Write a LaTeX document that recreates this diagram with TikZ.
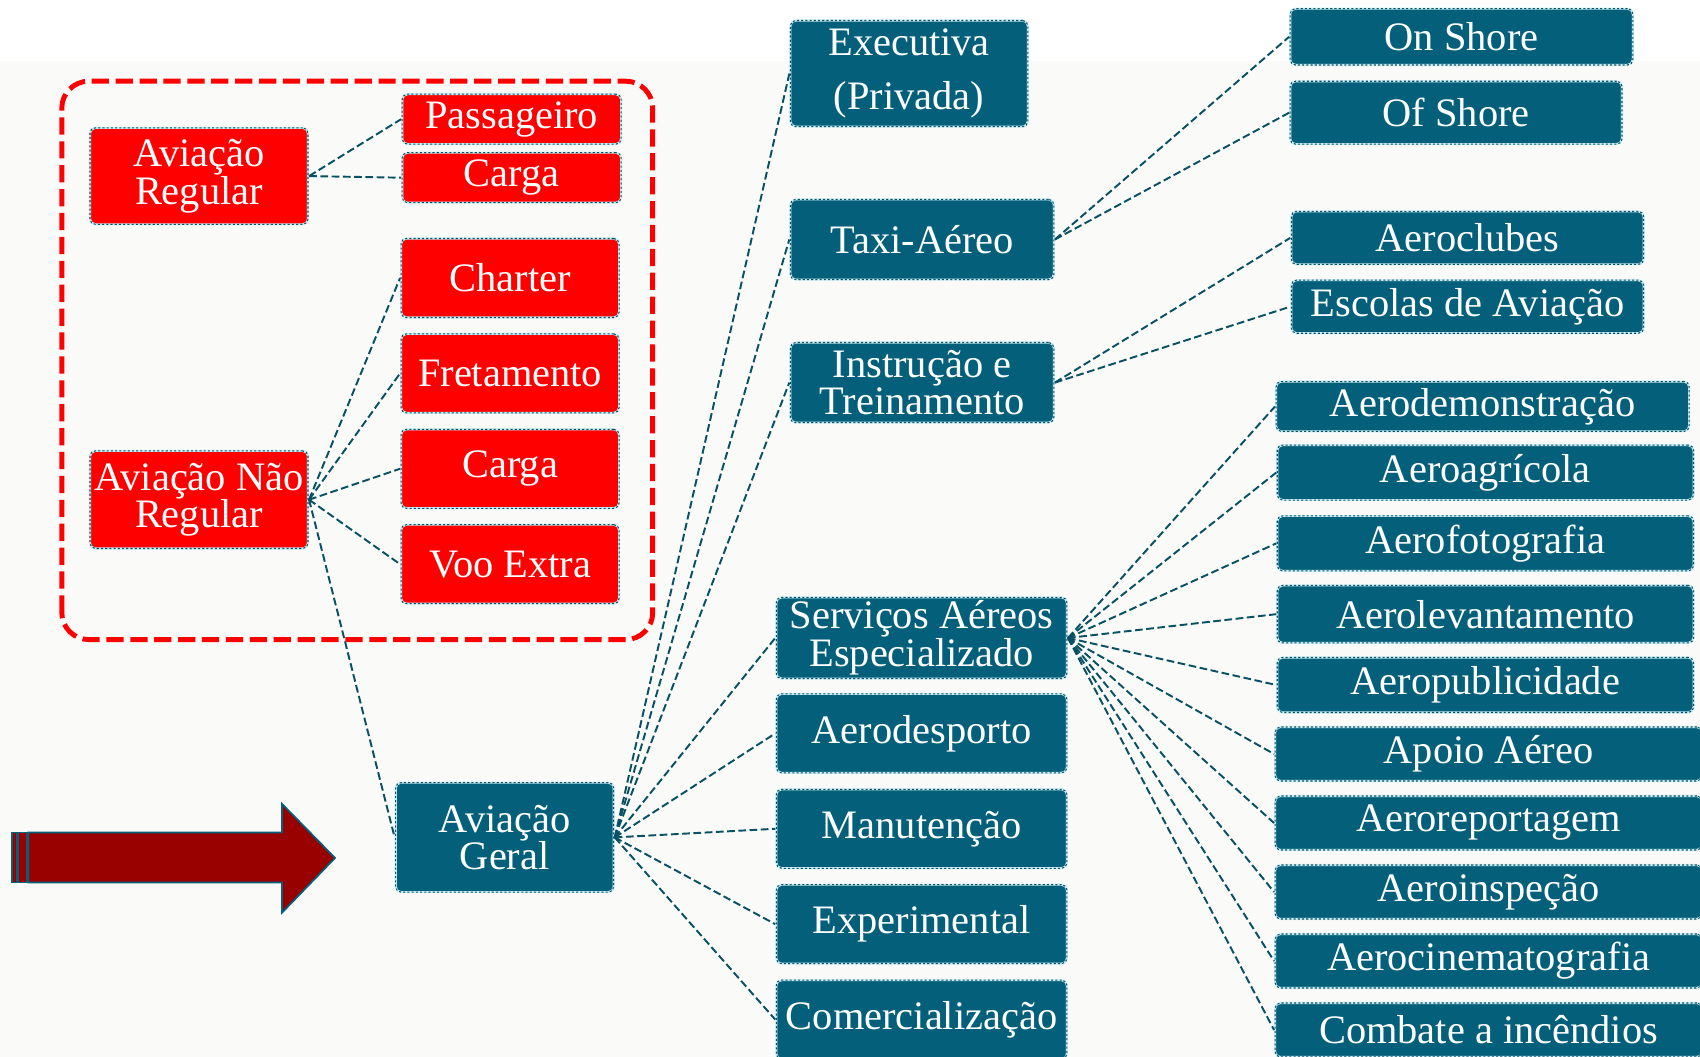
\documentclass[tikz,border=0pt]{standalone}
\usepackage{fontspec}
\setmainfont{Liberation Serif}
\usepackage{xcolor}
\usepackage{tikz}
\definecolor{boxteal}{RGB}{4,96,122}
\definecolor{linkteal}{RGB}{8,80,100}
\definecolor{edgecyan}{RGB}{205,238,246}
\definecolor{boxred}{RGB}{255,0,0}
\definecolor{arrowred}{RGB}{153,0,0}
\definecolor{pagebg}{RGB}{250,250,248}

\begin{document}
\begin{tikzpicture}[node distance=0.954cm,
    box/.style={rectangle, rounded corners=1.5pt, draw=edgecyan, line width=0.6pt, text=white, align=center, inner sep=0pt,
        font=\fontsize{11.5}{10.7}\selectfont, postaction={draw=linkteal, dash pattern=on 0.6pt off 0.6pt, line width=0.3pt}},
    redbox/.style={box, fill=boxred},
    tealbox/.style={box, fill=boxteal},
    link/.style={draw=linkteal, line width=0.55pt, dash pattern=on 2.2pt off 1pt}]
    \useasboundingbox (0,0) rectangle (17,10.57);
    \fill[white] (0,0) rectangle (17,10.57);
    \fill[pagebg] (0,0) rectangle (17,9.96);

    % dashed frame round the commercial side
    \draw[boxred, line width=1.4pt, dash pattern=on 4.9pt off 1.9pt, rounded corners=0.27cm] (0.618,4.174) rectangle (6.527,9.758);

    % big striped arrow
    \filldraw[fill=arrowred, draw=boxteal, line width=0.5pt] (0.117,1.746) rectangle (0.167,2.244);
    \filldraw[fill=arrowred, draw=boxteal, line width=0.5pt] (0.183,1.746) rectangle (0.273,2.244);
    \filldraw[fill=arrowred, draw=boxteal, line width=0.5pt] (0.283,1.746) -- (2.819,1.746) -- (2.819,1.442) -- (3.350,1.99)
        -- (2.819,2.532) -- (2.819,2.244) -- (0.283,2.244) -- cycle;

    % red side
    \node [redbox, minimum width=2.18cm, minimum height=0.965cm] (avreg) at (1.990,8.809) {Aviação\\Regular};
    \node [redbox, minimum width=2.18cm, minimum height=0.976cm] (avnreg) at (1.990,5.573) {Aviação Não\\Regular};
    \node [redbox, minimum width=2.19cm, minimum height=0.5cm] (passag) at (5.117,9.378) {Passageiro};
    \node [redbox, minimum width=2.19cm, minimum height=0.5cm, below of=passag, node distance=0.585cm] (cargareg) {Carga};
    \node [redbox, minimum width=2.18cm, minimum height=0.79cm] (charter) at (5.101,7.790) {Charter};
    \node [redbox, minimum width=2.18cm, minimum height=0.79cm, below of=charter] (fretam) {Fretamento};
    \node [redbox, minimum width=2.18cm, minimum height=0.79cm, below of=fretam] (carganr) {Carga};
    \node [redbox, minimum width=2.18cm, minimum height=0.79cm, below of=carganr] (vooextra) {Voo Extra};

    % teal side
    \node [tealbox, minimum width=2.18cm, minimum height=1.095cm] (avgeral) at (5.047,2.196) {Aviação\\Geral};
    \node [tealbox, minimum width=2.374cm, minimum height=1.062cm] (execut) at (9.091,9.834) {Executiva\\[4.6pt](Privada)};
    \node [tealbox, minimum width=2.635cm, minimum height=0.802cm] (taxi) at (9.221,8.175) {Taxi-Aéreo};
    \node [tealbox, minimum width=2.635cm, minimum height=0.802cm, below of=taxi, node distance=1.431cm] (instruc) {Instrução e\\Treinamento};
    \node [tealbox, minimum width=2.906cm, minimum height=0.813cm] (servic) at (9.216,4.190) {Serviços Aéreos\\Especializado};
    \node [tealbox, minimum width=2.906cm, minimum height=0.79cm, below of=servic] (aerodesp) {Aerodesporto};
    \node [tealbox, minimum width=2.906cm, minimum height=0.79cm, below of=aerodesp] (manut) {Manutenção};
    \node [tealbox, minimum width=2.906cm, minimum height=0.79cm, below of=manut] (experim) {Experimental};
    \node [tealbox, minimum width=2.906cm, minimum height=0.79cm, below of=experim] (comerc) {Comercialização};

    \node [tealbox, minimum width=3.426cm, minimum height=0.564cm] (onshore) at (14.615,10.202) {On Shore};
    \node [tealbox, minimum width=3.318cm, minimum height=0.629cm] (ofshore) at (14.561,9.443) {Of Shore};
    \node [tealbox, minimum width=3.524cm, minimum height=0.531cm] (aeroclub) at (14.675,8.191) {Aeroclubes};
    \node [tealbox, minimum width=3.524cm, minimum height=0.531cm, below of=aeroclub, node distance=0.688cm] (escolas) {Escolas de Aviação};

    \node [tealbox, minimum width=4.131cm, minimum height=0.499cm] (aerodemo) at (14.826,6.505) {Aerodemonstração};
    \node [tealbox, minimum width=4.163cm, minimum height=0.55cm] (aeroagri) at (14.854,5.844) {Aeroagrícola};
    \node [tealbox, minimum width=4.163cm, minimum height=0.55cm, below of=aeroagri, node distance=0.708cm] (aerofoto) {Aerofotografia};
    \node [tealbox, minimum width=4.163cm, minimum height=0.575cm, below of=aerofoto, node distance=0.708cm] (aerolev) {Aerolevantamento};
    \node [tealbox, minimum width=4.163cm, minimum height=0.55cm, below of=aerolev, node distance=0.708cm] (aeropub) {Aeropublicidade};
    \node [tealbox, minimum width=4.27cm, minimum height=0.54cm] (apoio) at (14.886,3.030) {Apoio Aéreo};
    \node [tealbox, minimum width=4.27cm, minimum height=0.54cm, below of=apoio, node distance=0.69cm] (aerorep) {Aeroreportagem};
    \node [tealbox, minimum width=4.27cm, minimum height=0.54cm, below of=aerorep, node distance=0.69cm] (aeroinsp) {Aeroinspeção};
    \node [tealbox, minimum width=4.27cm, minimum height=0.54cm, below of=aeroinsp, node distance=0.69cm] (aerocine) {Aerocinematografia};
    \node [tealbox, minimum width=4.27cm, minimum height=0.54cm, below of=aerocine, node distance=0.69cm] (combate) {Combate a incêndios};

    % links
    \draw[link] (avreg.east) -- (passag.west);
    \draw[link] (avreg.east) -- (cargareg.west);
    \draw[link] (avnreg.east) -- (charter.west);
    \draw[link] (avnreg.east) -- (fretam.west);
    \draw[link] (avnreg.east) -- (carganr.west);
    \draw[link] (avnreg.east) -- (vooextra.west);
    \draw[link] (avnreg.east) -- (avgeral.west);

    \draw[link] (avgeral.east) -- (execut.west);
    \draw[link] (avgeral.east) -- (taxi.west);
    \draw[link] (avgeral.east) -- (instruc.west);
    \draw[link] (avgeral.east) -- (servic.west);
    \draw[link] (avgeral.east) -- (aerodesp.west);
    \draw[link] (avgeral.east) -- (manut.west);
    \draw[link] (avgeral.east) -- (experim.west);
    \draw[link] (avgeral.east) -- (comerc.west);

    \draw[link] (taxi.east) -- (onshore.west);
    \draw[link] (taxi.east) -- (ofshore.west);
    \draw[link] (instruc.east) -- (aeroclub.west);
    \draw[link] (instruc.east) -- (escolas.west);

    \draw[link] (servic.east) -- (aerodemo.west);
    \draw[link] (servic.east) -- (aeroagri.west);
    \draw[link] (servic.east) -- (aerofoto.west);
    \draw[link] (servic.east) -- (aerolev.west);
    \draw[link] (servic.east) -- (aeropub.west);
    \draw[link] (servic.east) -- (apoio.west);
    \draw[link] (servic.east) -- (aerorep.west);
    \draw[link] (servic.east) -- (aeroinsp.west);
    \draw[link] (servic.east) -- (aerocine.west);
    \draw[link] (servic.east) -- (combate.west);
\end{tikzpicture}
\end{document}
